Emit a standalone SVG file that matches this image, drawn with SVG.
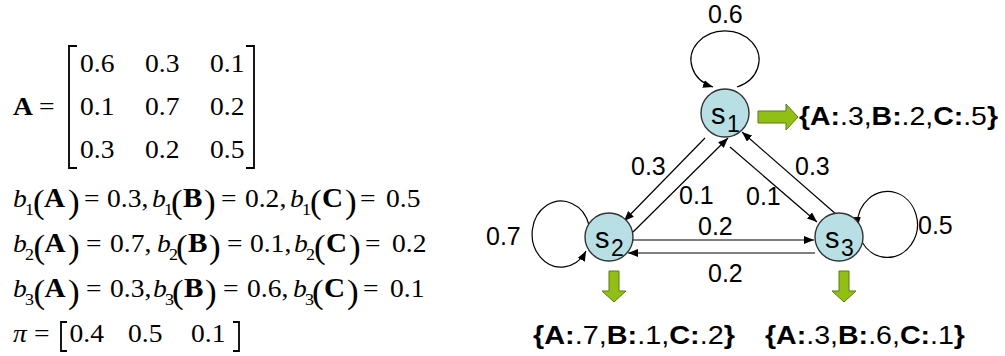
<svg xmlns="http://www.w3.org/2000/svg" width="1005" height="356" viewBox="0 0 1005 356">
<style>
.m{font-family:"Liberation Serif","Times New Roman",serif;font-size:26px;fill:#000}
.i{font-style:italic}
.bd{font-weight:bold}
.bl{font-weight:bold;font-size:27.5px}
.sb{font-size:17px}
.pr{font-size:33px}
.lb{font-family:"Liberation Sans",Arial,sans-serif;font-size:25px;fill:#000}
.em{font-family:"Liberation Sans",Arial,sans-serif;font-size:25px;fill:#000}
.node{fill:#b8dfe3;stroke:#333;stroke-width:1.4}
.nl{font-family:"Liberation Sans",Arial,sans-serif;font-size:29px;fill:#000}
.ns{font-size:23px}
.ed{fill:none;stroke:#000;stroke-width:1.2;marker-end:url(#ah)}
.ga{fill:#92bf14;stroke:#5b7a12;stroke-width:1}
.br{fill:none;stroke:#000;stroke-width:1.8}
</style>
<defs>
<marker id="ah" markerUnits="userSpaceOnUse" markerWidth="10" markerHeight="8" refX="10" refY="4" orient="auto">
<path d="M0,0 L10,4 L0,8 z" fill="#000"/>
</marker>
</defs>

<g id="math" transform="scale(1.06 1)">
<g id="matrix">
<text class="m bd" x="12.26" y="115">A</text>
<text class="m" x="36.79" y="115">=</text>
<text class="m" x="75.47" y="72">0.6</text>
<text class="m" x="136.79" y="72">0.3</text>
<text class="m" x="198.11" y="72">0.1</text>
<text class="m" x="75.47" y="115">0.1</text>
<text class="m" x="136.79" y="115">0.7</text>
<text class="m" x="198.11" y="115">0.2</text>
<text class="m" x="75.47" y="158">0.3</text>
<text class="m" x="136.79" y="158">0.2</text>
<text class="m" x="198.11" y="158">0.5</text>
</g>

<g id="emissions-b1">
<text class="m"><tspan class="i" x="12.26" y="207">b</tspan><tspan class="sb" x="23.58" y="215">1</tspan><tspan class="pr" x="31.13" y="213">(</tspan><tspan class="bl" x="41.5" y="207">A</tspan><tspan class="pr" x="64.15" y="213">)</tspan><tspan x="79.25" y="207">=</tspan><tspan x="100.94" y="207">0.3,</tspan><tspan class="i" x="143.4" y="207">b</tspan><tspan class="sb" x="154.7" y="215">1</tspan><tspan class="pr" x="161.3" y="213">(</tspan><tspan class="bl" x="172.6" y="207">B</tspan><tspan class="pr" x="192.45" y="213">)</tspan><tspan x="208.5" y="207">=</tspan><tspan x="231.1" y="207">0.2,</tspan><tspan class="i" x="273.6" y="207">b</tspan><tspan class="sb" x="284.9" y="215">1</tspan><tspan class="pr" x="292.5" y="213">(</tspan><tspan class="bl" x="303.8" y="207">C</tspan><tspan class="pr" x="325.47" y="213">)</tspan><tspan x="339.6" y="207">=</tspan><tspan x="364.2" y="207">0.5</tspan></text>
</g>

<g id="emissions-b2">
<text class="m"><tspan class="i" x="12.26" y="252">b</tspan><tspan class="sb" x="23.58" y="260">2</tspan><tspan class="pr" x="31.6" y="258">(</tspan><tspan class="bl" x="41.98" y="252">A</tspan><tspan class="pr" x="64.15" y="258">)</tspan><tspan x="81.13" y="252">=</tspan><tspan x="103.77" y="252">0.7,</tspan><tspan class="i" x="148.1" y="252">b</tspan><tspan class="sb" x="159.4" y="260">2</tspan><tspan class="pr" x="166" y="258">(</tspan><tspan class="bl" x="177.4" y="252">B</tspan><tspan class="pr" x="197.17" y="258">)</tspan><tspan x="214.2" y="252">=</tspan><tspan x="235.8" y="252">0.1,</tspan><tspan class="i" x="277.4" y="252">b</tspan><tspan class="sb" x="288.7" y="260">2</tspan><tspan class="pr" x="296.2" y="258">(</tspan><tspan class="bl" x="307.5" y="252">C</tspan><tspan class="pr" x="329.25" y="258">)</tspan><tspan x="344.3" y="252">=</tspan><tspan x="369.8" y="252">0.2</tspan></text>
</g>

<g id="emissions-b3">
<text class="m"><tspan class="i" x="12.26" y="297">b</tspan><tspan class="sb" x="23.58" y="305">3</tspan><tspan class="pr" x="31.6" y="303">(</tspan><tspan class="bl" x="41.98" y="297">A</tspan><tspan class="pr" x="64.15" y="303">)</tspan><tspan x="81.13" y="297">=</tspan><tspan x="103.77" y="297">0.3,</tspan><tspan class="i" x="144.3" y="297">b</tspan><tspan class="sb" x="155.7" y="305">3</tspan><tspan class="pr" x="162.3" y="303">(</tspan><tspan class="bl" x="173.6" y="297">B</tspan><tspan class="pr" x="193.4" y="303">)</tspan><tspan x="210.4" y="297">=</tspan><tspan x="233" y="297">0.6,</tspan><tspan class="i" x="276.4" y="297">b</tspan><tspan class="sb" x="287.7" y="305">3</tspan><tspan class="pr" x="294.3" y="303">(</tspan><tspan class="bl" x="305.7" y="297">C</tspan><tspan class="pr" x="327.36" y="303">)</tspan><tspan x="342.5" y="297">=</tspan><tspan x="367.9" y="297">0.1</tspan></text>
</g>

<g id="initial-pi">
<text class="m"><tspan class="i" x="12.26" y="342">π</tspan><tspan x="32.08" y="342">=</tspan><tspan x="65.6" y="342">0.4</tspan><tspan x="120.75" y="342">0.5</tspan><tspan x="180.19" y="342">0.1</tspan></text>
</g>
</g>
<path class="br" d="M77,46 H69 V168 H77"/>
<path class="br" d="M246,46 H254 V168 H246"/>
<path class="br" d="M67,322 H61 V351 H67"/>
<path class="br" d="M233,322 H239 V351 H233"/>

<g id="connectors">
<path class="ed" d="M737,87 A34,29 0 1 0 713,87"/>
<path class="ed" d="M589,225 A29,33 0 1 0 586,251"/>
<path class="ed" d="M862,242 A30,33 0 1 0 857.5,227"/>
<path class="ed" d="M705,138 L624,221"/>
<path class="ed" d="M633,232 L728,138"/>
<path class="ed" d="M730,147 L817,222"/>
<path class="ed" d="M837,215 L742,132"/>
<path class="ed" d="M633,240 L814,240"/>
<path class="ed" d="M815,253 L628,253"/>
<text class="lb" x="708" y="23">0.6</text>
<text class="lb" x="486" y="245">0.7</text>
<text class="lb" x="918" y="234">0.5</text>
<text class="lb" x="631" y="175">0.3</text>
<text class="lb" x="679" y="204">0.1</text>
<text class="lb" x="746" y="205">0.1</text>
<text class="lb" x="795" y="175">0.3</text>
<text class="lb" x="698" y="235">0.2</text>
<text class="lb" x="708" y="282">0.2</text>
</g>

<g id="s1">
<circle class="node" cx="725" cy="113" r="24"/>
<text class="nl"><tspan x="711" y="124">s</tspan><tspan class="ns" x="727" y="132">1</tspan></text>
</g>
<g id="s2">
<circle class="node" cx="609" cy="237" r="24"/>
<text class="nl"><tspan x="595" y="248">s</tspan><tspan class="ns" x="611" y="256">2</tspan></text>
</g>
<g id="s3">
<circle class="node" cx="839" cy="237" r="24"/>
<text class="nl"><tspan x="825" y="248">s</tspan><tspan class="ns" x="841" y="256">3</tspan></text>
</g>

<g id="emit-s1">
<polygon class="ga" points="758,111 786,111 786,104 798,117 786,130 786,123 758,123"/>
<text class="em" x="799" y="125" textLength="199" lengthAdjust="spacingAndGlyphs"><tspan class="bd">{A:</tspan>.3,<tspan class="bd">B:</tspan>.2,<tspan class="bd">C:</tspan>.5<tspan class="bd">}</tspan></text>
</g>
<g id="emit-s2">
<polygon class="ga" points="609,271 619,271 619,291 626,291 614,302 602,291 609,291"/>
<text class="em" x="533" y="344" textLength="202" lengthAdjust="spacingAndGlyphs"><tspan class="bd">{A:</tspan>.7,<tspan class="bd">B:</tspan>.1,<tspan class="bd">C:</tspan>.2<tspan class="bd">}</tspan></text>
</g>
<g id="emit-s3">
<polygon class="ga" points="839,271 849,271 849,291 856,291 844,302 832,291 839,291"/>
<text class="em" x="765" y="344" textLength="200" lengthAdjust="spacingAndGlyphs"><tspan class="bd">{A:</tspan>.3,<tspan class="bd">B:</tspan>.6,<tspan class="bd">C:</tspan>.1<tspan class="bd">}</tspan></text>
</g>
</svg>
